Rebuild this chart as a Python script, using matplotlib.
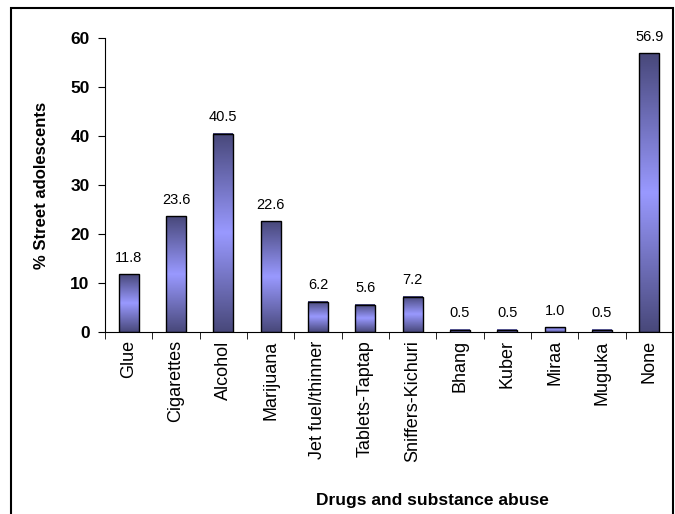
import matplotlib.pyplot as plt
import numpy as np
from matplotlib.colors import LinearSegmentedColormap
from matplotlib.patches import Rectangle

categories = ['Glue', 'Cigarettes', 'Alcohol', 'Marijuana', 'Jet fuel/thinner',
              'Tablets-Taptap', 'Sniffers-Kichuri', 'Bhang', 'Kuber', 'Miraa',
              'Muguka', 'None']
percent = [11.8, 23.6, 40.5, 22.6, 6.2, 5.6, 7.2, 0.5, 0.5, 1.0, 0.5, 56.9]

plt.rcParams['font.family'] = ['Liberation Sans', 'DejaVu Sans']

fig = plt.figure(figsize=(6.75, 5.14), dpi=100)
ax = fig.add_axes([105 / 675, 1 - 332 / 514, 568 / 675, 294 / 514])

# dark-light-dark shading across each bar's height
shade = LinearSegmentedColormap.from_list('shade', ['#48487a', '#9999ff', '#48487a'])
grad = np.linspace(0, 1, 256).reshape(-1, 1)

width = 0.42
x = np.arange(len(categories))
bars = ax.bar(x, percent, width, facecolor='none', edgecolor='black', linewidth=1.0, zorder=3)
for b, v in zip(bars, percent):
    x0 = b.get_x()
    ax.imshow(grad, cmap=shade, extent=(x0, x0 + width, 0, v), aspect='auto',
              origin='lower', zorder=2, interpolation='bicubic')
    ax.text(b.get_x() + width / 2, v + 2.5, f'{v:.1f}', ha='center', va='baseline',
            fontsize=10.5)

ax.set_xlim(-0.5, len(categories) - 0.5)
ax.set_ylim(0, 60)
ax.set_yticks(range(0, 61, 10))
ax.set_yticklabels([str(t) for t in range(0, 61, 10)], fontsize=12.5, fontweight='bold')
ax.set_xticks(x)
ax.set_xticklabels(categories, rotation=90, fontsize=13)
ax.tick_params(axis='x', length=0, pad=6)
ax.set_xticks(np.arange(-0.5, len(categories)), minor=True)
ax.tick_params(axis='x', which='minor', length=5, direction='out')
ax.tick_params(axis='y', length=5, direction='out', pad=6)

for side in ['top', 'right']:
    ax.spines[side].set_visible(False)

fig.text(42 / 675, 1 - 185 / 514, '% Street adolescents', rotation=90, ha='center',
         va='center', fontsize=12, fontweight='bold')
fig.text(432 / 675, 1 - 501 / 514, 'Drugs and substance abuse', ha='center', va='center',
         fontsize=12.5, fontweight='bold')

# frame around the whole chart area
fig.patches.append(Rectangle((11 / 675, -0.05), 662 / 675, 1.05 - 7.5 / 514,
                             transform=fig.transFigure, fill=False,
                             edgecolor='black', linewidth=1.5))

fig.savefig('out.png', dpi=100)
